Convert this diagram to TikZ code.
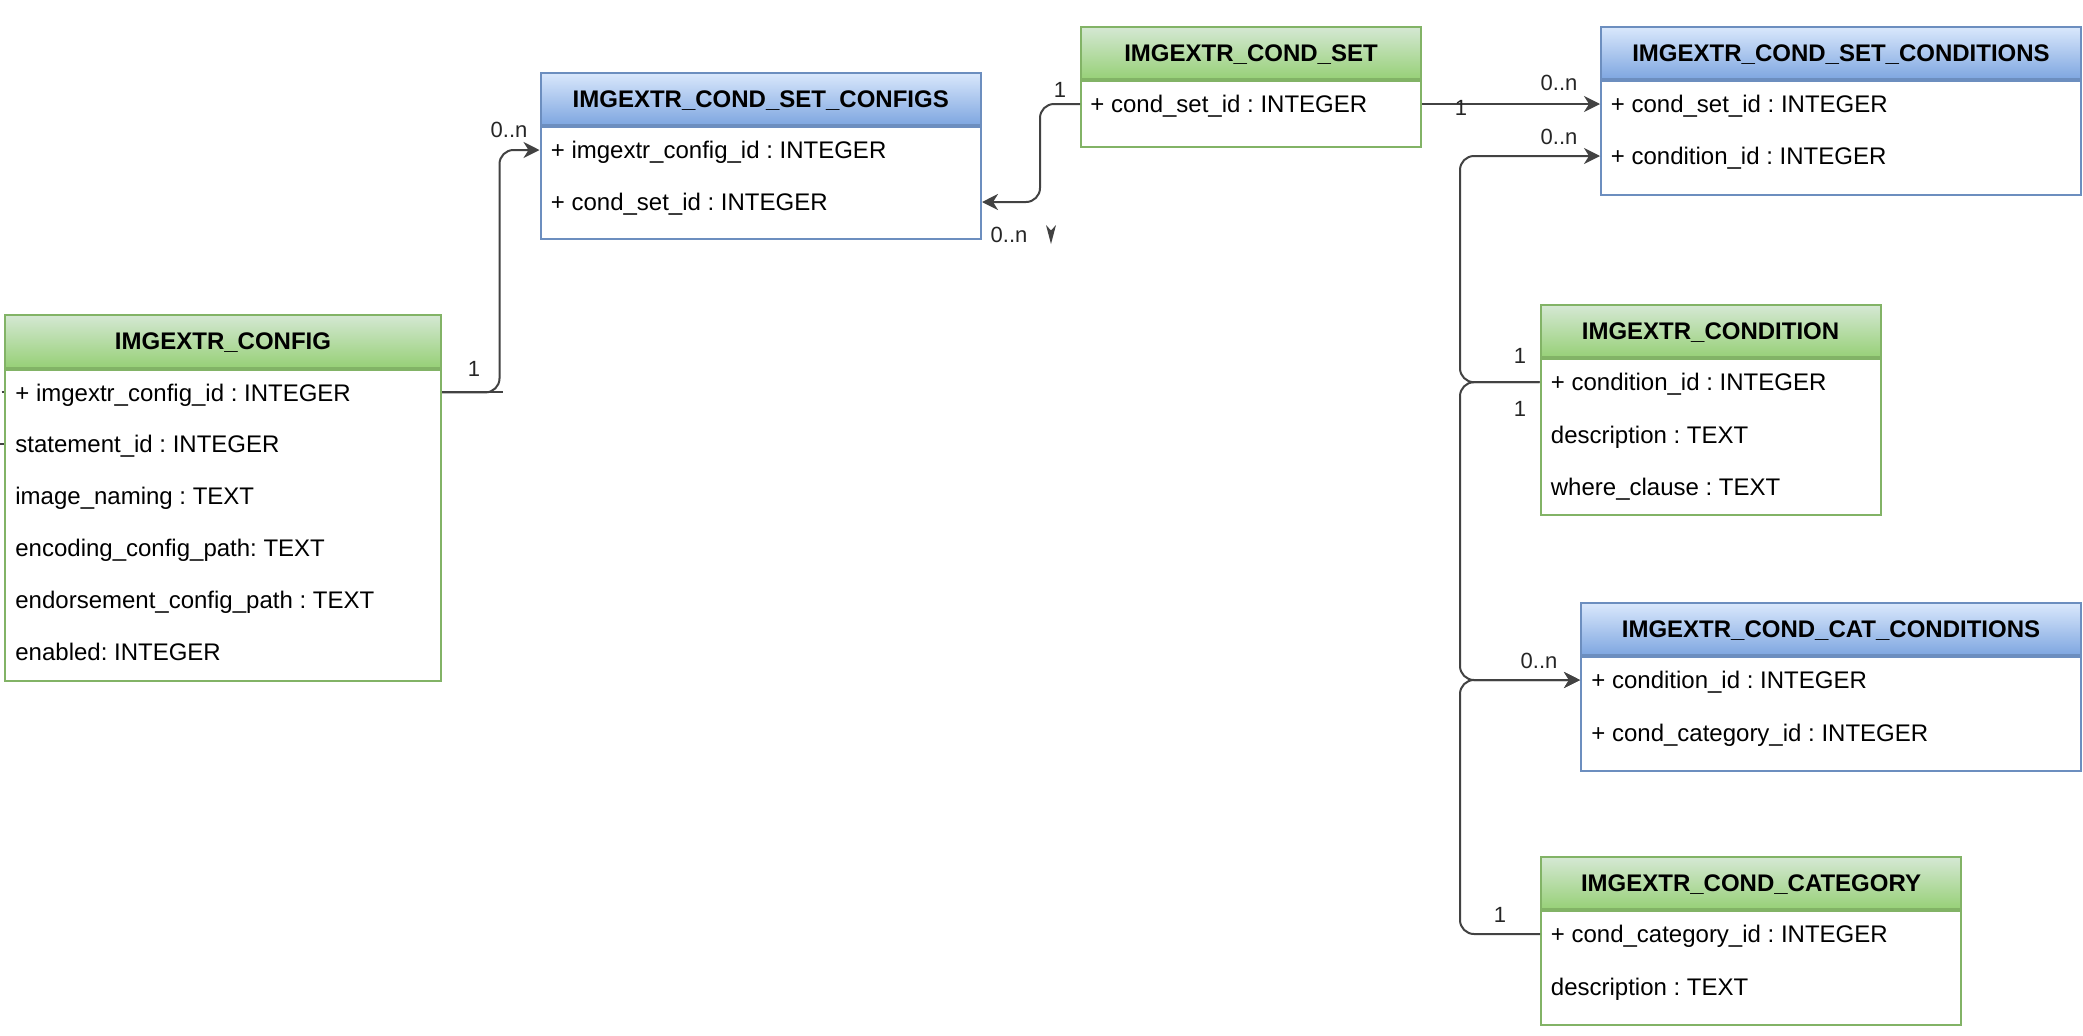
\documentclass[tikz,border=0pt]{standalone}
\usepackage{fontspec}
\setmainfont{Liberation Sans}
\frenchspacing
\usetikzlibrary{arrows.meta,calc}
\definecolor{gborder}{HTML}{82B366}
\definecolor{gtop}{HTML}{D5E8D4}
\definecolor{gbot}{HTML}{97D077}
\definecolor{bborder}{HTML}{6C8EBF}
\definecolor{btop}{HTML}{DAE8FC}
\definecolor{bbot}{HTML}{7EA6E0}
\definecolor{conncol}{HTML}{424242}
\tikzset{
 hdr/.style={draw, line width=1pt, anchor=north west, inner sep=0pt, font=\fontsize{12}{14}\selectfont\bfseries, text height=8.6pt, text depth=0pt},
 ghdr/.style={hdr, draw=gborder, top color=gtop, bottom color=gbot},
 bhdr/.style={hdr, draw=bborder, top color=btop, bottom color=bbot},
 erbody/.style={draw, line width=1pt, fill=white, anchor=north west, inner sep=0pt},
 gbody/.style={erbody, draw=gborder},
 bbody/.style={erbody, draw=bborder},
 row/.style={anchor=west, inner sep=0pt, font=\fontsize{12}{14}\selectfont\frenchspacing, text height=8.6pt, text depth=0pt},
 conn/.style={draw=conncol, line width=1pt, rounded corners=7pt},
 arr/.style={-{Stealth[length=8pt,width=8pt,inset=2.5pt]}},
 mult/.style={inner sep=0pt, font=\fontsize{11}{13}\selectfont, text=black!85},
}
\newcommand\ertable[8]{%
 \node[#7hdr, minimum width=#4*0.5pt, minimum height=#5*0.5pt] (#1h) at (#2,#3) {#8};
 \node[#7body, minimum width=#4*0.5pt, minimum height=#6*0.5pt] (#1b) at (#1h.south west) {};
}
\begin{document}
\begin{tikzpicture}[x=0.5pt,y=-0.5pt]
\fill[white] (0,0) rectangle (2083,1035);
\useasboundingbox (0,0) rectangle (2083,1035);

% tables
\ertable{config}{4}{313.5}{436}{53}{311}{g}{IMGEXTR\_CONFIG}
\node[row] (config-r1) at (15,392.4) {+ imgextr\_config\_id : INTEGER};
\node[row] (config-r2) at (15,444.2) {statement\_id : INTEGER};
\node[row] (config-r3) at (15,496) {image\_naming : TEXT};
\node[row] (config-r4) at (15,547.8) {encoding\_config\_path: TEXT};
\node[row] (config-r5) at (15,599.6) {endorsement\_config\_path : TEXT};
\node[row] (config-r6) at (15,651.4) {enabled: INTEGER};

\ertable{csc}{539.5}{71.5}{440.5}{52.5}{112}{b}{IMGEXTR\_COND\_SET\_CONFIGS}
\node[row] (csc-r1) at (550.5,150) {+ imgextr\_config\_id : INTEGER};
\node[row] (csc-r2) at (550.5,202) {+ cond\_set\_id : INTEGER};

\ertable{cs}{1080}{25.5}{340}{52.8}{65.7}{g}{IMGEXTR\_COND\_SET}
\node[row] (cs-r1) at (1090,104) {+ cond\_set\_id : INTEGER};

\ertable{cscond}{1600}{25.5}{480}{52.8}{113.7}{b}{IMGEXTR\_COND\_SET\_CONDITIONS}
\node[row] (cscond-r1) at (1610.5,104) {+ cond\_set\_id : INTEGER};
\node[row] (cscond-r2) at (1610.5,156) {+ condition\_id : INTEGER};

\ertable{cond}{1539.5}{304}{340}{52.4}{155.6}{g}{IMGEXTR\_CONDITION}
\node[row] (cond-r1) at (1550.5,382.2) {+ condition\_id : INTEGER};
\node[row] (cond-r2) at (1550.5,434.6) {description : TEXT};
\node[row] (cond-r3) at (1550.5,486.6) {where\_clause : TEXT};

\ertable{ccc}{1580}{602}{500}{52.3}{113.7}{b}{IMGEXTR\_COND\_CAT\_CONDITIONS}
\node[row] (ccc-r1) at (1591,680) {+ condition\_id : INTEGER};
\node[row] (ccc-r2) at (1591,732.5) {+ cond\_category\_id : INTEGER};

\ertable{cat}{1540}{856}{420}{52.3}{113.7}{g}{IMGEXTR\_COND\_CATEGORY}
\node[row] (cat-r1) at (1550.5,934) {+ cond\_category\_id : INTEGER};
\node[row] (cat-r2) at (1550.5,986.5) {description : TEXT};

% junction coordinates
\coordinate (j1) at (499.5,392.4);
\coordinate (j1s) at (503,392.4);
\coordinate (j2) at (1040,104);
\coordinate (j4) at (1460,382.2);
\coordinate (j6) at (1460,934);
\coordinate (stubA) at (0,444.2);
\coordinate (stubB) at (1.5,392.4);

% connectors
\draw[conn,arr] (configb.east |- config-r1) -- (j1) |- (cscb.west |- csc-r1);
\draw[conn] (configb.east |- config-r1) -- (j1s);
\draw[conn,arr] (csb.west |- cs-r1) -- (j2) |- (cscb.east |- csc-r2);
\draw[conn,arr] (csb.east |- cs-r1) -- (cscondb.west |- cscond-r1);
\draw[conn,arr] (condb.west |- cond-r1) -- (j4) |- (cscondb.west |- cscond-r2);
\draw[conn,arr] (condb.west |- cond-r1) -- (j4) |- (cccb.west |- ccc-r1);
\draw[conn,arr] (catb.west |- cat-r1) -- (j6) |- (cccb.west |- ccc-r1);
\draw[conn] (stubA) -- (configb.west |- config-r2);
\draw[conn] (stubB) -- (configb.west |- config-r1);

% stray arrowhead
\fill[conncol] (1051,244) -- (1046,225) -- (1051,230.5) -- (1056,225) -- cycle;

% multiplicities
\node[mult] (m1) at (474,369) {1};
\node[mult] (m2) at (509,130) {0..n};
\node[mult] (m3) at (1060,90) {1};
\node[mult] (m4) at (1009,235) {0..n};
\node[mult] (m5) at (1461,108) {1};
\node[mult] (m6) at (1559,83) {0..n};
\node[mult] (m7) at (1559,137) {0..n};
\node[mult] (m8) at (1520,356) {1};
\node[mult] (m9) at (1520,409) {1};
\node[mult] (m10) at (1539,661) {0..n};
\node[mult] (m11) at (1500,915) {1};
\end{tikzpicture}
\end{document}
